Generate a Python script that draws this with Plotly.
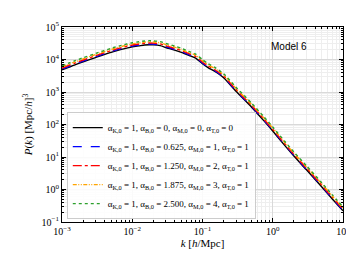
import plotly.graph_objects as go

k = [0.001, 0.0015, 0.002, 0.003, 0.005, 0.007, 0.01, 0.0125, 0.015, 0.0175, 0.02, 0.025, 0.03, 0.04, 0.05,
     0.065, 0.08, 0.1, 0.12, 0.15, 0.2, 0.3, 0.5, 0.75, 1, 1.5, 2, 3, 5, 7, 10]

p_black = [4790, 6760, 8510, 11480, 16600, 20420, 24550, 26300, 27860, 28310, 28180, 26610, 23440, 19500, 16600,
           13180, 10960, 7410, 5620, 4270, 2750, 1050, 340, 129, 63, 22, 10.7, 4.1, 1.2, 0.52, 0.22]
p_blue = [5073, 7159, 9012, 12160, 17580, 21620, 26000, 27850, 29500, 29980, 29840, 28180, 24820, 20650, 17580,
          13960, 11610, 7847, 5952, 4522, 2912, 1112, 360, 136.6, 66.7, 23.3, 11.33, 4.34, 1.27, 0.551, 0.233]
p_red = [5437, 7673, 9659, 13030, 18840, 23180, 27860, 29850, 31620, 32130, 31980, 30200, 26600, 22130, 18840,
         14960, 12440, 8410, 6379, 4846, 3121, 1192, 385.9, 146.4, 71.5, 24.97, 12.14, 4.65, 1.36, 0.590, 0.250]
p_orange = [5892, 8315, 10470, 14120, 20420, 25120, 30200, 32350, 34270, 34820, 34660, 32730, 28830, 23990, 20420,
            16210, 13480, 9114, 6913, 5252, 3383, 1292, 418.2, 158.7, 77.5, 27.06, 13.16, 5.04, 1.48, 0.640, 0.271]
p_green = [6390, 9018, 11350, 15310, 22140, 27240, 32750, 35080, 37170, 37770, 37590, 35500, 31270, 26010, 22140,
           17580, 14620, 9885, 7497, 5696, 3669, 1401, 453.6, 172.1, 84.0, 29.35, 14.27, 5.47, 1.60, 0.694, 0.293]

labels = [
    "α<sub>K,0</sub> = 1, α<sub>B,0</sub> = 0, α<sub>M,0</sub> = 0, α<sub>T,0</sub> = 0",
    "α<sub>K,0</sub> = 1, α<sub>B,0</sub> = 0.625, α<sub>M,0</sub> = 1, α<sub>T,0</sub> = 1",
    "α<sub>K,0</sub> = 1, α<sub>B,0</sub> = 1.250, α<sub>M,0</sub> = 2, α<sub>T,0</sub> = 1",
    "α<sub>K,0</sub> = 1, α<sub>B,0</sub> = 1.875, α<sub>M,0</sub> = 3, α<sub>T,0</sub> = 1",
    "α<sub>K,0</sub> = 1, α<sub>B,0</sub> = 2.500, α<sub>M,0</sub> = 4, α<sub>T,0</sub> = 1",
]

x_tickvals = [1e-3, 1e-2, 1e-1, 1, 10]
x_ticktext = ["10<sup>−3</sup>", "10<sup>−2</sup>", "10<sup>−1</sup>", "10<sup>0</sup>", "10<sup>1</sup>"]
y_tickvals = [1e-1, 1, 10, 100, 1e3, 1e4, 1e5]
y_ticktext = ["10<sup>−1</sup>", "10<sup>0</sup>", "10<sup>1</sup>", "10<sup>2</sup>",
              "10<sup>3</sup>", "10<sup>4</sup>", "10<sup>5</sup>"]

series = [
    (p_black, "black", "solid"),
    (p_blue, "blue", "dash"),
    (p_red, "red", "dashdot"),
    (p_orange, "orange", "4px,1.5px,1px,1.5px,1px,1.5px"),
    (p_green, "#2ca02c", "dot"),
]

fig = go.Figure()
for (vals, col, dash), lab in zip(series, labels):
    fig.add_trace(go.Scatter(x=k, y=vals, mode="lines", name=lab,
                             line=dict(color=col, width=1.4, dash=dash, shape="spline", smoothing=0.6)))

serif = "Liberation Serif"
axis_common = dict(
    type="log", showline=True, linecolor="black", linewidth=1, mirror="allticks",
    ticks="inside", ticklen=4, tickcolor="black", showgrid=True, gridcolor="#d9d9d9",
    gridwidth=0.8, zeroline=False, tickfont=dict(family=serif, size=10, color="black"),
    minor=dict(ticks="inside", ticklen=2, tickcolor="black", showgrid=True,
               gridcolor="#eeeeee", gridwidth=0.6, dtick="D1"),
)

fig.update_xaxes(**axis_common, range=[-3, 1], tickvals=x_tickvals, ticktext=x_ticktext,
                 title=dict(text="<i>k</i> [<i>h</i>/Mpc]", font=dict(family=serif, size=11, color="black"),
                            standoff=2))
fig.update_yaxes(**axis_common, range=[-1, 5], tickvals=y_tickvals, ticktext=y_ticktext,
                 title=dict(text="<i>P</i>(<i>k</i>) [Mpc/<i>h</i>]<sup>3</sup>",
                            font=dict(family=serif, size=11, color="black"), standoff=6))

fig.add_annotation(text="Model 6", xref="paper", yref="paper", x=0.88, y=0.9,
                   xanchor="right", yanchor="middle", showarrow=False,
                   font=dict(family="Liberation Sans", size=10, color="black"))

fig.update_layout(
    width=354, height=253,
    margin=dict(l=54, r=14, t=13, b=39),
    plot_bgcolor="white", paper_bgcolor="white",
    legend=dict(x=0.017, y=0.015, xanchor="left", yanchor="bottom",
                bgcolor="rgba(255,255,255,0.85)", bordercolor="#cccccc", borderwidth=1,
                font=dict(family=serif, size=9, color="black"), itemwidth=30,
                tracegroupgap=0),
)

fig.write_html("out.html")
